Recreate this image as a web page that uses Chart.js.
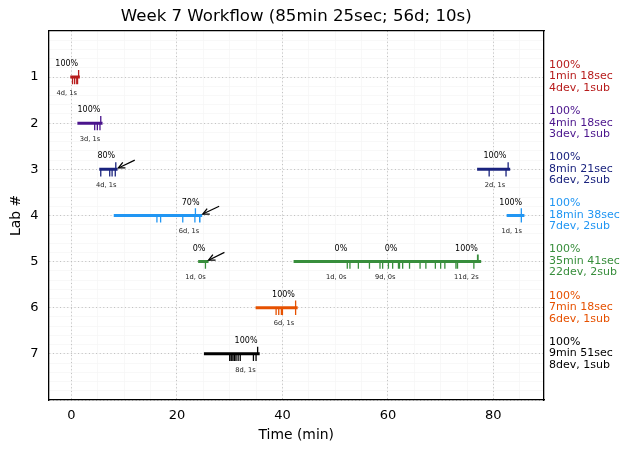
<!DOCTYPE html>
<html><head><meta charset="utf-8">
<script src="https://cdn.jsdelivr.net/npm/chart.js@4"></script>
<style>html,body{margin:0;padding:0;background:#fff}canvas{display:block}</style>
</head><body><canvas id="c" width="630" height="453"></canvas>
<script>
const chartTitle = "Week 7 Workflow (85min 25sec; 56d; 10s)";
const labs = [1,2,3,4,5,6,7];
const labColors = ["#b71c1c","#4a148c","#1a237e","#2196f3","#388e3c","#e65100","#000000"];
const labSummary = [
 ["100%","1min 18sec","4dev, 1sub"],
 ["100%","4min 18sec","3dev, 1sub"],
 ["100%","8min 21sec","6dev, 2sub"],
 ["100%","18min 38sec","7dev, 2sub"],
 ["100%","35min 41sec","22dev, 2sub"],
 ["100%","7min 18sec","6dev, 1sub"],
 ["100%","9min 51sec","8dev, 1sub"]
];
// bars
const barLab   = [1,2,3,3,4,4,5,5,6,7];
const barStart = [0.05,1.4,5.55,77.2,8.3,82.8,24.3,42.4,35.2,25.4];
const barEnd   = [1.3,5.6,8.45,82.9,24.5,85.6,25.7,77.4,42.6,35.4];
// dev commits (tick down), submissions (tick up)
const devLab = [1,2,3,3,4,4,5,5,6,7];
const devTimes = [
 [0.2,0.6,1.0,1.15],
 [4.4,4.9,5.4],
 [5.55,7.25,7.7,8.3],
 [79.2,82.4],
 [16.2,16.9,21.1,23.4,24.3,24.35],
 [85.3],
 [25.4],
 [52.3,52.8,54.4,56.5,58.5,59.0,60.1,60.9,62.0,62.2,62.8,64.1,66.1,67.2,69.0,70.0,70.8,72.9,73.2,76.3],
 [38.8,39.3,39.8,40.0,42.5],
 [30.0,30.3,30.6,30.9,31.2,31.6,32.0,34.5,35.0]
];
const subLab = [1,2,3,3,4,4,5,6,7];
const subTimes = [[1.35],[5.55],[8.4],[82.8],[23.5],[85.3],[77.0,77.1],[42.5],[35.3]];
// small annotations
const pctLab  = [1,2,3,3,4,4,5,5,5,5,6,7];
const pctX    = [-0.9,3.3,6.6,80.3,22.6,83.3,24.2,51.1,60.6,74.9,40.2,33.1];
const pctText = ["100%","100%","80%","100%","70%","100%","0%","0%","0%","100%","100%","100%"];
const cntX    = [-0.9,3.5,6.6,80.3,22.3,83.5,23.5,50.2,59.5,74.9,40.3,33.0];
const cntText = ["4d, 1s","3d, 1s","4d, 1s","2d, 1s","6d, 1s","1d, 1s","1d, 0s","1d, 0s","9d, 0s","11d, 2s","6d, 1s","8d, 1s"];
const cntLab = [1,2,3,3,4,4,5,5,5,5,6,7];
const arrowFromX = [12.0,28.0,29.0];
const arrowFromY = [2.8,3.8,4.8];
const arrowToX   = [8.9,24.9,26.0];
const arrowToY   = [2.97,3.97,4.97];
const xMin=-4.36, xMax=89.6, yMin=0, yMax=8;

const datasets=[];
const seg=(xs,lab,dir)=>xs.flatMap(v=>[{x:v,y:lab},{x:v,y:lab+dir*0.155},{x:v,y:null}]);
devTimes.forEach((xs,i)=>datasets.push({data:seg(xs,devLab[i],1),borderColor:labColors[devLab[i]-1],borderWidth:1.3,showLine:true,pointRadius:0,spanGaps:false}));
subTimes.forEach((xs,i)=>datasets.push({data:seg(xs,subLab[i],-1),borderColor:labColors[subLab[i]-1],borderWidth:1.3,showLine:true,pointRadius:0,spanGaps:false}));
barLab.forEach((l,i)=>datasets.push({data:[{x:barStart[i],y:l},{x:barEnd[i],y:l}],borderColor:labColors[l-1],borderWidth:3,borderCapStyle:'square',showLine:true,pointRadius:0}));
arrowFromX.forEach((_,i)=>datasets.push({data:[{x:arrowFromX[i],y:arrowFromY[i]},{x:arrowToX[i],y:arrowToY[i]}],borderColor:'#000',borderWidth:1.2,showLine:true,pointRadius:0}));

const textPlugin={id:'texts',afterDatasetsDraw(ch){
 const c=ch.ctx,x=ch.scales.x,y=ch.scales.y;
 c.save();
 c.textBaseline='middle';
 c.textAlign='center';
 c.fillStyle='#000';
 c.font='8px "DejaVu Sans"';
 pctText.forEach((t,i)=>c.fillText(t,x.getPixelForValue(pctX[i]),y.getPixelForValue(pctLab[i])-13));
 c.fillStyle='#222';
 c.font='6.7px "DejaVu Sans"';
 cntText.forEach((t,i)=>c.fillText(t,x.getPixelForValue(cntX[i]),y.getPixelForValue(cntLab[i])+16));
 // arrow heads
 c.strokeStyle='#000';c.lineWidth=1.3;
 arrowToX.forEach((_,i)=>{
  const tx=x.getPixelForValue(arrowToX[i]),ty=y.getPixelForValue(arrowToY[i]);
  const fx=x.getPixelForValue(arrowFromX[i]),fy=y.getPixelForValue(arrowFromY[i]);
  const a=Math.atan2(fy-ty,fx-tx),h=7;
  c.beginPath();
  c.moveTo(tx+h*Math.cos(a+0.45),ty+h*Math.sin(a+0.45));
  c.lineTo(tx,ty);
  c.lineTo(tx+h*Math.cos(a-0.45),ty+h*Math.sin(a-0.45));
  c.stroke();
 });
 // right labels
 c.textAlign='left';
 c.font='11px "DejaVu Sans"';
 labs.forEach((l,i)=>{
  c.fillStyle=labColors[i];
  const py=y.getPixelForValue(l);
  labSummary[i].forEach((t,j)=>c.fillText(t,549,py-12+j*11.5));
 });
 c.restore();
}};

new Chart(document.getElementById('c'),{
 type:'scatter',
 data:{datasets},
 plugins:[textPlugin],
 options:{
  responsive:false,animation:false,devicePixelRatio:1,
  layout:{padding:{left:0,right:86,top:0,bottom:0}},
  plugins:{legend:{display:false},tooltip:{enabled:false},
   title:{display:true,fullSize:false,text:chartTitle,color:'#000',font:{family:'"DejaVu Sans"',size:16.6,weight:'normal'},padding:{top:7,bottom:4}}},
  scales:{
   xm:{type:'linear',position:'top',min:xMin,max:xMax,ticks:{display:false,stepSize:5,includeBounds:false},
     grid:{color:'#f6f6f6',lineWidth:0.8,drawTicks:false},border:{color:'#000',width:1.3},afterFit(s){s.height=0}},
   ym:{type:'linear',position:'right',reverse:true,min:yMin,max:yMax,ticks:{display:false,stepSize:0.2,includeBounds:false},
     grid:{color:'#f6f6f6',lineWidth:0.8,drawTicks:false},border:{color:'#000',width:1.3},afterFit(s){s.width=0}},
   x:{type:'linear',position:'bottom',min:xMin,max:xMax,
     ticks:{stepSize:20,includeBounds:false,color:'#000',font:{family:'"DejaVu Sans"',size:13},padding:8,maxRotation:0},
     grid:{color:'#bcbcbc',lineWidth:1,drawTicks:false},border:{color:'#000',width:1.3,dash:[1,2.6]},
     title:{display:true,text:'Time (min)',color:'#000',font:{family:'"DejaVu Sans"',size:13.9},padding:{top:4,bottom:9}},
     afterFit(s){s.height=53}},
   y:{type:'linear',position:'left',reverse:true,min:yMin,max:yMax,
     ticks:{stepSize:1,includeBounds:false,color:'#000',font:{family:'"DejaVu Sans"',size:13},padding:10,
       callback:v=>(labs.includes(v)?String(v):'')},
     grid:{color:'#bcbcbc',lineWidth:1,drawTicks:false},border:{color:'#000',width:1.3,dash:[1,2.6]},
     title:{display:true,text:'Lab #',color:'#000',font:{family:'"DejaVu Sans"',size:13.9},padding:{top:8,bottom:4}},
     afterFit(s){s.width=48.5}}
  }
 }
});
</script></body></html>
